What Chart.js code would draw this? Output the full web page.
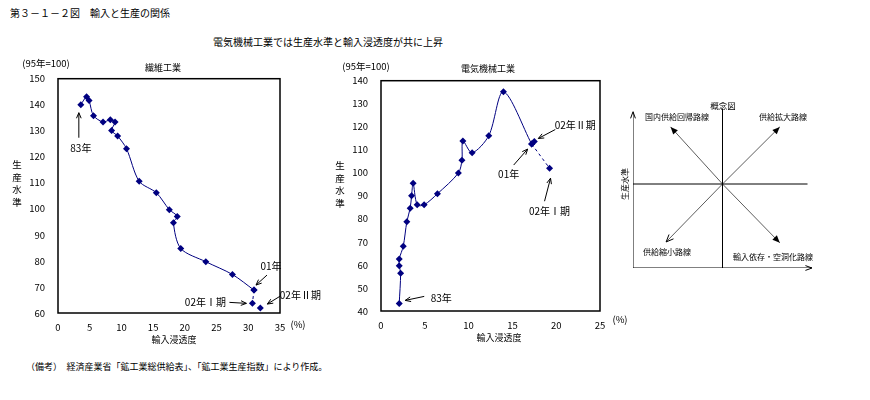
<!DOCTYPE html>
<html>
<head>
<meta charset="utf-8">
<script src="https://cdn.jsdelivr.net/npm/chart.js@4.4.1/dist/chart.umd.min.js"></script>
<style>
body{margin:0;background:#fff;width:870px;height:400px;position:relative;overflow:hidden;font-family:"Noto Sans CJK JP",sans-serif;color:#000}
canvas{position:absolute}
.t{position:absolute;white-space:nowrap;line-height:1;transform:translate(-50%,-50%)}
.l{transform:translate(0,-50%)}
.v{width:1em;white-space:normal;text-align:center}
</style>
</head>
<body>
<canvas id="textileChart" width="330" height="275" style="left:0;top:60px"></canvas>
<canvas id="electricChart" width="300" height="271" style="left:323px;top:62px"></canvas>
<canvas id="conceptChart" width="230" height="190" style="left:600px;top:90px"></canvas>

<div class="t l" style="left:10px;top:13px;font-size:10px">第３－１－２図　輸入と生産の関係</div>
<div class="t" style="left:328px;top:42px;font-size:10px">電気機械工業では生産水準と輸入浸透度が共に上昇</div>

<div class="t" style="left:46px;top:64px;font-size:9.5px">(95年=100)</div>
<div class="t" style="left:163px;top:67px;font-size:9px">繊維工業</div>
<div class="t v" style="left:17px;top:183px;font-size:9.5px;line-height:12.7px">生産水準</div>
<div class="t" style="left:174px;top:339px;font-size:9px">輸入浸透度</div>
<div class="t" style="left:298px;top:325px;font-size:9.5px">(%)</div>

<div class="t" style="left:366px;top:67px;font-size:9.5px">(95年=100)</div>
<div class="t" style="left:488px;top:68px;font-size:9px">電気機械工業</div>
<div class="t v" style="left:340px;top:184px;font-size:9.5px;line-height:12.7px">生産水準</div>
<div class="t" style="left:499px;top:337px;font-size:9px">輸入浸透度</div>
<div class="t" style="left:620px;top:320px;font-size:9.5px">(%)</div>

<div class="t" style="left:723px;top:105px;font-size:8.5px">概念図</div>
<div class="t" style="left:677px;top:117px;font-size:8px">国内供給回帰路線</div>
<div class="t" style="left:783px;top:117px;font-size:8px">供給拡大路線</div>
<div class="t" style="left:667px;top:252px;font-size:8px">供給縮小路線</div>
<div class="t" style="left:773px;top:257px;font-size:8px">輸入依存・空洞化路線</div>
<div class="t" style="left:625px;top:184px;font-size:8px;transform:translate(-50%,-50%) rotate(-90deg)">生産水準</div>

<div class="t l" style="left:26px;top:366px;font-size:9px">（備考）　経済産業省「鉱工業総供給表」、「鉱工業生産指数」により作成。</div>

<script>
// 繊維工業 83年〜01年 (輸入浸透度 %, 生産水準 95年=100)
const textileImport = [3.6, 4.5, 4.9, 5.6, 7.1, 8.25, 9.0, 8.45, 9.4, 10.8, 12.8, 15.5, 17.55, 18.8, 18.2, 19.35, 23.3, 27.5, 30.9];
const textileProd = [140.0, 143.1, 141.6, 135.8, 133.4, 134.2, 133.4, 130.1, 128.0, 123.1, 110.6, 106.2, 99.7, 97.1, 94.7, 84.8, 79.7, 74.8, 68.8];
const textileQ1 = { x: 30.65, y: 63.7 };   // 02年I期
const textileQ2 = { x: 31.9, y: 61.9 };    // 02年II期

// 電気機械工業 83年〜01年
const electricImport = [2.08, 2.24, 2.08, 2.08, 2.54, 2.95, 3.33, 3.49, 3.67, 4.13, 4.92, 6.44, 8.83, 9.24, 9.35, 10.4, 12.3, 13.98, 17.2];
const electricProd = [43.3, 56.4, 59.7, 62.6, 68.1, 78.8, 84.6, 90.0, 95.5, 86.1, 86.1, 90.9, 99.9, 105.5, 113.8, 108.7, 116.1, 135.2, 112.5];
const electricQ1 = { x: 19.24, y: 102.0 };
const electricQ2 = { x: 17.5, y: 113.6 };

// 概念図: routes from the centre
const routeDx = [-0.58, 0.64, -0.63, 0.64];
const routeDy = [0.68, 0.68, -0.69, -0.70];
const routeHead = ['filled', 'filled', 'open', 'filled'];

const navy = '#000080';
const fontFamily = '"Noto Sans CJK JP", sans-serif';

function toPoints(xs, ys) {
    return xs.map((x, i) => ({ x: x, y: ys[i] }));
}

function drawArrow(ctx, x1, y1, x2, y2, head, size) {
    const ang = Math.atan2(y2 - y1, x2 - x1);
    ctx.beginPath();
    ctx.moveTo(x1, y1);
    ctx.lineTo(x2, y2);
    ctx.stroke();
    const a1 = ang + Math.PI - 0.4, a2 = ang + Math.PI + 0.4;
    ctx.beginPath();
    if (head === 'filled') {
        ctx.moveTo(x2, y2);
        ctx.lineTo(x2 + size * Math.cos(a1), y2 + size * Math.sin(a1));
        ctx.lineTo(x2 + size * Math.cos(a2), y2 + size * Math.sin(a2));
        ctx.closePath();
        ctx.fill();
    } else {
        ctx.moveTo(x2 + size * Math.cos(a1), y2 + size * Math.sin(a1));
        ctx.lineTo(x2, y2);
        ctx.lineTo(x2 + size * Math.cos(a2), y2 + size * Math.sin(a2));
        ctx.stroke();
    }
}

// frame around the plot area
const boxPlugin = {
    id: 'box',
    afterDraw(chart, args, opts) {
        if (!opts.show) return;
        const a = chart.chartArea, ctx = chart.ctx;
        ctx.save();
        ctx.strokeStyle = '#000';
        ctx.lineWidth = 1.5;
        ctx.strokeRect(a.left, a.top, a.right - a.left, a.bottom - a.top);
        ctx.restore();
    }
};

// year labels with arrows pointing at a data point
const notePlugin = {
    id: 'notes',
    afterDatasetsDraw(chart, args, opts) {
        const ctx = chart.ctx;
        (opts.items || []).forEach(n => {
            const p = chart.getDatasetMeta(n.ds).data[n.i];
            ctx.save();
            ctx.strokeStyle = '#000';
            ctx.fillStyle = '#000';
            ctx.lineWidth = 1;
            drawArrow(ctx, p.x + n.tail[0], p.y + n.tail[1], p.x + n.tip[0], p.y + n.tip[1], 'open', 6);
            ctx.font = '10px ' + fontFamily;
            ctx.textAlign = 'center';
            ctx.textBaseline = 'middle';
            ctx.fillText(n.text, p.x + n.label[0], p.y + n.label[1]);
            ctx.restore();
        });
    }
};

// arrow heads for the concept diagram
const headPlugin = {
    id: 'heads',
    afterDatasetsDraw(chart) {
        const ctx = chart.ctx;
        chart.data.datasets.forEach((ds, k) => {
            if (!ds.head) return;
            const pts = chart.getDatasetMeta(k).data;
            const a = pts[pts.length - 2], b = pts[pts.length - 1];
            const ang = Math.atan2(b.y - a.y, b.x - a.x);
            const s = ds.head === 'axis' ? 7 : 8;
            ctx.save();
            ctx.strokeStyle = '#000';
            ctx.fillStyle = '#000';
            ctx.lineWidth = 1;
            ctx.beginPath();
            const a1 = ang + Math.PI - (ds.head === 'axis' ? 0.35 : 0.4);
            const a2 = ang + Math.PI + (ds.head === 'axis' ? 0.35 : 0.4);
            if (ds.head === 'filled') {
                ctx.moveTo(b.x, b.y);
                ctx.lineTo(b.x + s * Math.cos(a1), b.y + s * Math.sin(a1));
                ctx.lineTo(b.x + s * Math.cos(a2), b.y + s * Math.sin(a2));
                ctx.closePath();
                ctx.fill();
            } else {
                ctx.moveTo(b.x + s * Math.cos(a1), b.y + s * Math.sin(a1));
                ctx.lineTo(b.x, b.y);
                ctx.lineTo(b.x + s * Math.cos(a2), b.y + s * Math.sin(a2));
                ctx.stroke();
            }
            ctx.restore();
        });
    }
};

function lineChart(id, series, q1, q2, xMax, yMin, yMax, padRight, notes) {
    const ctx = document.getElementById(id).getContext('2d');
    const last = series[series.length - 1];
    const marker = { pointStyle: 'rectRot', pointRadius: 3.5, pointBackgroundColor: navy, pointBorderColor: navy, pointBorderWidth: 0 };
    return new Chart(ctx, {
        type: 'scatter',
        data: {
            datasets: [
                Object.assign({ data: series, showLine: true, borderColor: navy, borderWidth: 1, tension: 0.3 }, marker),
                Object.assign({ data: [last, q1], showLine: true, borderColor: navy, borderWidth: 1, borderDash: [3, 3] }, marker),
                Object.assign({ data: [q2] }, marker)
            ]
        },
        options: {
            responsive: false,
            animation: false,
            layout: { padding: { top: 8, right: padRight, left: 0, bottom: 0 } },
            plugins: {
                legend: { display: false },
                tooltip: { enabled: false },
                box: { show: true },
                notes: { items: notes }
            },
            scales: {
                x: {
                    type: 'linear', min: 0, max: xMax,
                    grid: { display: false, drawTicks: false },
                    border: { display: false },
                    ticks: { stepSize: 5, padding: 9, maxRotation: 0, autoSkip: false, color: '#000', font: { size: 9.5, family: fontFamily } },
                    afterFit(s) { s.height = 22; }
                },
                y: {
                    min: yMin, max: yMax,
                    grid: { display: false, drawTicks: false },
                    border: { display: false },
                    ticks: { stepSize: 10, padding: 13, color: '#000', font: { size: 9.5, family: fontFamily } },
                    afterFit(s) { s.width = 58; }
                }
            }
        },
        plugins: [boxPlugin, notePlugin]
    });
}

lineChart('textileChart', toPoints(textileImport, textileProd), textileQ1, textileQ2, 35, 60, 150, 50, [
    { ds: 0, i: 0, text: '83年', tip: [-2, 8], tail: [-2, 33], label: [0, 43] },
    { ds: 0, i: 18, text: '01年', tip: [2, -5], tail: [13, -15], label: [17, -24] },
    { ds: 1, i: 1, text: '02年Ⅰ期', tip: [-6, 0], tail: [-23, -1], label: [-47, -1] },
    { ds: 2, i: 0, text: '02年Ⅱ期', tip: [7, -4], tail: [20, -12], label: [40, -13] }
]);

lineChart('electricChart', toPoints(electricImport, electricProd), electricQ1, electricQ2, 25, 40, 140, 23, [
    { ds: 0, i: 0, text: '83年', tip: [6, -3], tail: [25, -7], label: [42, -5] },
    { ds: 0, i: 18, text: '01年', tip: [-4, 5], tail: [-18, 21], label: [-23, 30] },
    { ds: 2, i: 0, text: '02年Ⅱ期', tip: [4, -3], tail: [21, -12], label: [41, -16] },
    { ds: 1, i: 1, text: '02年Ⅰ期', tip: [1, 10], tail: [-5, 33], label: [0, 43] }
]);

// concept diagram
function conceptChart() {
    const ctx = document.getElementById('conceptChart').getContext('2d');
    const seg = (pts, head, w) => ({ data: pts, showLine: true, borderColor: '#000', borderWidth: w || 1, pointRadius: 0, head: head });
    const datasets = [
        seg([{ x: -1, y: -1 }, { x: -1, y: 0.86 }], 'axis'),
        seg([{ x: -1, y: -1 }, { x: 1, y: -1 }], 'axis'),
        seg([{ x: 0, y: -1 }, { x: 0, y: 0.9 }]),
        seg([{ x: -1, y: 0 }, { x: 0.95, y: 0 }])
    ];
    routeDx.forEach((dx, k) => {
        datasets.push(Object.assign(seg([{ x: 0, y: 0 }, { x: dx, y: routeDy[k] }], routeHead[k], 0.8), { borderColor: '#333' }));
    });
    return new Chart(ctx, {
        type: 'scatter',
        data: { datasets: datasets },
        options: {
            responsive: false,
            animation: false,
            layout: { padding: { left: 33, right: 18, top: 10, bottom: 12 } },
            plugins: { legend: { display: false }, tooltip: { enabled: false } },
            scales: {
                x: { display: false, min: -1, max: 1 },
                y: { display: false, min: -1, max: 1 }
            }
        },
        plugins: [headPlugin]
    });
}

conceptChart();
</script>
</body>
</html>
